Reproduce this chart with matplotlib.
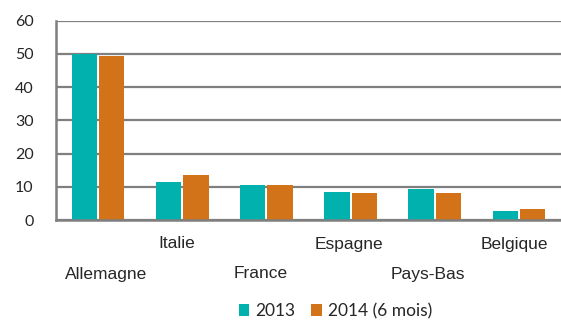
import matplotlib
matplotlib.use("Agg")
import matplotlib.pyplot as plt
import matplotlib.transforms as mtransforms
from matplotlib.patches import Patch
import numpy as np

categories = ["Allemagne", "Italie", "France", "Espagne", "Pays-Bas", "Belgique"]
series_names = ["2013", "2014 (6 mois)"]
values_2013 = [50.0, 11.5, 10.4, 8.5, 9.2, 2.6]
values_2014 = [49.5, 13.4, 10.4, 8.0, 8.0, 3.2]
y_ticks = [0, 10, 20, 30, 40, 50, 60]

teal = "#00b1ad"
orange = "#d2731a"
grid_col = "#7f7f7f"
text_col = "#262626"

fig = plt.figure(figsize=(5.61, 3.2), dpi=100)
ax = fig.add_axes([0.0998, 0.3125, 0.9002, 0.623])

x = np.arange(len(categories))
w = 0.30
gap = 0.012
ax.bar(x - w / 2 - gap, values_2013, width=w, color=teal, zorder=3)
ax.bar(x + w / 2 + gap, values_2014, width=w, color=orange, zorder=3)

ax.set_xlim(-0.5, len(categories) - 0.5)
ax.set_ylim(0, 60)
ax.set_yticks(y_ticks)
ax.yaxis.grid(True, color=grid_col, linewidth=1.6, zorder=1)
ax.set_axisbelow(True)

for s in ["top", "right"]:
    ax.spines[s].set_visible(False)
for s in ["left", "bottom"]:
    ax.spines[s].set_color(grid_col)
    ax.spines[s].set_linewidth(1.8)
ax.spines["bottom"].set_zorder(4)

ax.tick_params(axis="y", length=0, pad=16, labelsize=11.5, labelcolor=text_col)
for lbl in ax.get_yticklabels():
    lbl.set_fontfamily("Lato")

# staggered category labels
ax.set_xticks(x)
ax.set_xticklabels([])
ax.tick_params(axis="x", length=0)
shifts = [8, -5.5, -6, -2, -6.5, -5]
trans = ax.get_xaxis_transform()
for i, (name, dx) in enumerate(zip(categories, shifts)):
    dy = -24 if i % 2 == 1 else -54
    off = mtransforms.ScaledTranslation(dx / 100, dy / 100, fig.dpi_scale_trans)
    ax.text(i, 0, name, transform=trans + off, ha="center", va="center",
            fontsize=12.5, family="Liberation Sans", color=text_col)

handles = [Patch(facecolor=teal, label=series_names[0]),
           Patch(facecolor=orange, label=series_names[1])]
fig.legend(handles=handles, loc="center", bbox_to_anchor=(0.598, 0.028),
           ncol=2, frameon=False, handlelength=0.6, handleheight=0.75,
           handletextpad=0.35, columnspacing=0.9,
           prop={"family": "Lato", "size": 12.5})
for t in fig.legends[0].get_texts():
    t.set_color(text_col)

fig.savefig("out.png", dpi=100)
